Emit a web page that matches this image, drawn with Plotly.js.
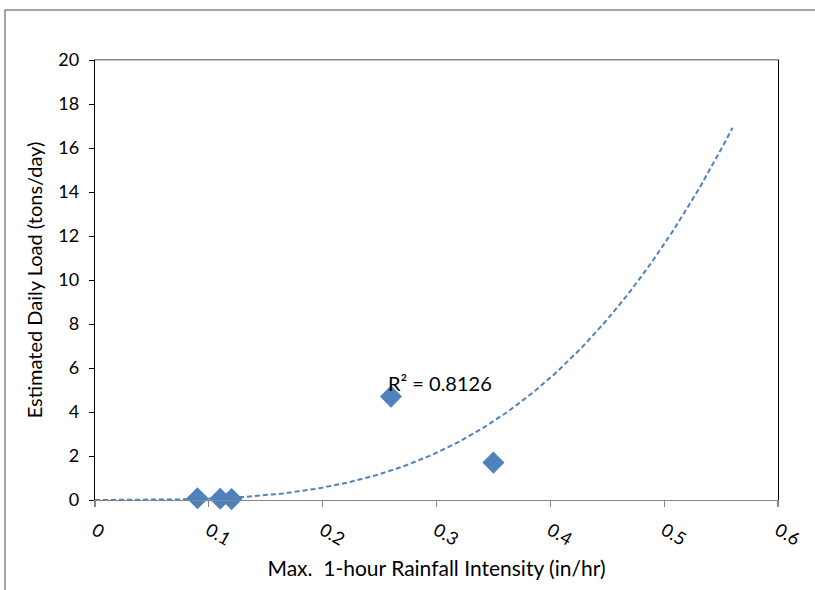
<!DOCTYPE html>
<html>
<head>
<meta charset="utf-8">
<script src="https://cdn.plot.ly/plotly-3.0.1.min.js"></script>
<style>
  html, body { margin: 0; padding: 0; background: #fff; }
  #chart { width: 815px; height: 590px; }
</style>
</head>
<body>
<div id="chart"></div>
<script>
const rainfallIntensity = [0.09, 0.11, 0.12, 0.26, 0.35];   // in/hr
const dailyLoad = [0.08, 0.06, 0.04, 4.7, 1.7];              // tons/day
const rSquaredText = "R² = 0.8126";
const trendStart = 0;
const trendEnd = 0.56;

// Power trendline fitted (least squares in log space) like a spreadsheet does
const lx = rainfallIntensity.map(Math.log);
const ly = dailyLoad.map(Math.log);
const n = lx.length;
const mx = lx.reduce((a, b) => a + b, 0) / n;
const my = ly.reduce((a, b) => a + b, 0) / n;
let sxy = 0, sxx = 0;
for (let i = 0; i < n; i++) { sxy += (lx[i] - mx) * (ly[i] - my); sxx += (lx[i] - mx) ** 2; }
const powB = sxy / sxx;
const powA = Math.exp(my - powB * mx);
const trendX = [], trendY = [];
const steps = 200;
for (let i = 0; i <= steps; i++) {
  const x = trendStart + (trendEnd - trendStart) * i / steps;
  trendX.push(x);
  trendY.push(x === 0 ? 0 : powA * Math.pow(x, powB));
}

const blue = '#4F81BD';
const font = 'Lato, "Open Sans", sans-serif';

const traces = [
  {
    x: trendX, y: trendY, type: 'scatter', mode: 'lines',
    line: { color: blue, width: 2, dash: '5px,3px' },
    hoverinfo: 'skip', showlegend: false
  },
  {
    x: rainfallIntensity, y: dailyLoad, type: 'scatter', mode: 'markers',
    marker: { symbol: 'diamond', size: 17, color: blue, line: { width: 0 } },
    cliponaxis: false, showlegend: false
  }
];

const layout = {
  width: 815, height: 590,
  margin: { l: 95, r: 37, t: 60, b: 90 },
  paper_bgcolor: '#fff', plot_bgcolor: '#fff',
  font: { family: font, size: 18, color: '#000' },
  showlegend: false,
  xaxis: {
    range: [0, 0.6], dtick: 0.1, tick0: 0,
    showgrid: false, zeroline: false,
    showline: true, linecolor: '#868686', linewidth: 1.2, mirror: true,
    ticks: 'outside', ticklen: 6, tickcolor: '#868686', tickwidth: 1.2,
    tickangle: 30, ticklabelstandoff: 6,
    tickfont: { family: font, size: 18, color: '#000' },
    title: { text: 'Max.\u00a0 1-hour Rainfall Intensity (in/hr)', font: { family: font, size: 21, color: '#000' }, standoff: 12 }
  },
  yaxis: {
    range: [0, 20], dtick: 2, tick0: 0,
    showgrid: false, zeroline: false,
    showline: true, linecolor: '#000', linewidth: 1.3, mirror: true,
    ticks: 'outside', ticklen: 5, tickcolor: '#000', tickwidth: 1,
    ticklabelstandoff: 6,
    tickfont: { family: font, size: 18, color: '#000' },
    title: { text: 'Estimated Daily Load (tons/day)', font: { family: font, size: 20, color: '#000' }, standoff: 10 }
  },
  shapes: [
    { type: 'line', xref: 'paper', yref: 'paper', x0: 0, x1: 1, y0: 1, y1: 1, line: { color: '#868686', width: 1.2 } },
    { type: 'rect', xref: 'paper', yref: 'paper', x0: -0.1318, x1: 1.3, y0: -0.4, y1: 1.1136,
      line: { color: '#868686', width: 1.5 }, fillcolor: 'rgba(0,0,0,0)', layer: 'below' }
  ],
  annotations: [
    { x: 0.2557, y: 5.32, xref: 'x', yref: 'y', text: rSquaredText, showarrow: false,
      xanchor: 'left', yanchor: 'middle', font: { family: font, size: 20, color: '#000' } }
  ]
};

Plotly.newPlot('chart', traces, layout, { displayModeBar: false, staticPlot: true });
</script>
</body>
</html>
